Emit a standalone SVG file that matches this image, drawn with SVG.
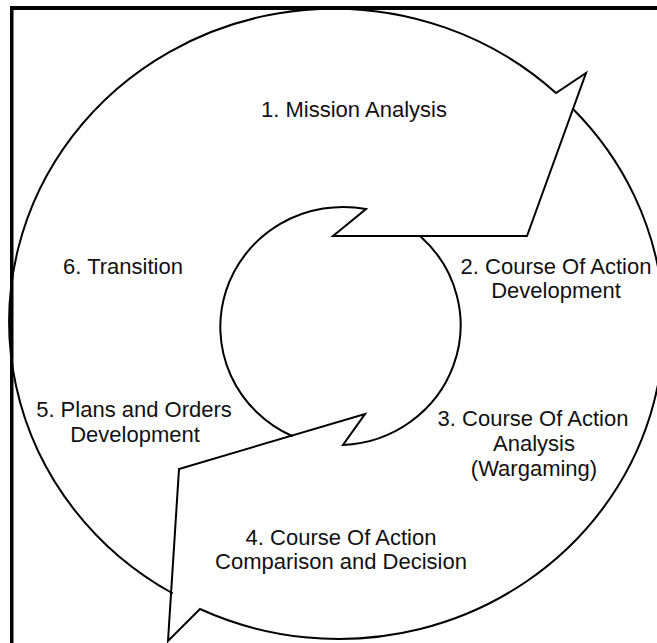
<svg xmlns="http://www.w3.org/2000/svg" width="657" height="643" viewBox="0 0 657 643">
<style>
.ln{fill:none;stroke:#000;stroke-width:2;stroke-linejoin:miter;stroke-linecap:round}
.t{font-family:"Liberation Sans",Arial,sans-serif;font-size:22px;fill:#111;text-anchor:middle}
</style>
<rect x="0" y="0" width="657" height="643" fill="#fff"/>
<g id="frame">
<rect x="10" y="6" width="647" height="4" fill="#000"/>
<rect x="10" y="6" width="3.5" height="637" fill="#000"/>
</g>
<g id="connectors">
<g id="arrow-a">
<path class="ln" d="M172,593 A325,313 0 1 1 556,93 L586,73 L527,236 L333,236 L366,209 A123,120 0 0 0 292,436"/>
</g>
<g id="arrow-b">
<path class="ln" d="M573,109 A325,313 0 0 1 200,609 L168,641 L179,469 L365,414 L343,445 A123,120 0 0 0 420,236"/>
</g>
</g>
<g id="step1"><text class="t" x="354" y="117">1. Mission Analysis</text></g>
<g id="step2"><text class="t" x="556" y="274">2. Course Of Action</text><text class="t" x="556" y="298">Development</text></g>
<g id="step3"><text class="t" x="533" y="426">3. Course Of Action</text><text class="t" x="534" y="451">Analysis</text><text class="t" x="534" y="476">(Wargaming)</text></g>
<g id="step4"><text class="t" x="341" y="545">4. Course Of Action</text><text class="t" x="341" y="569">Comparison and Decision</text></g>
<g id="step5"><text class="t" x="134" y="417">5. Plans and Orders</text><text class="t" x="135" y="442">Development</text></g>
<g id="step6"><text class="t" x="123" y="274">6. Transition</text></g>
</svg>
